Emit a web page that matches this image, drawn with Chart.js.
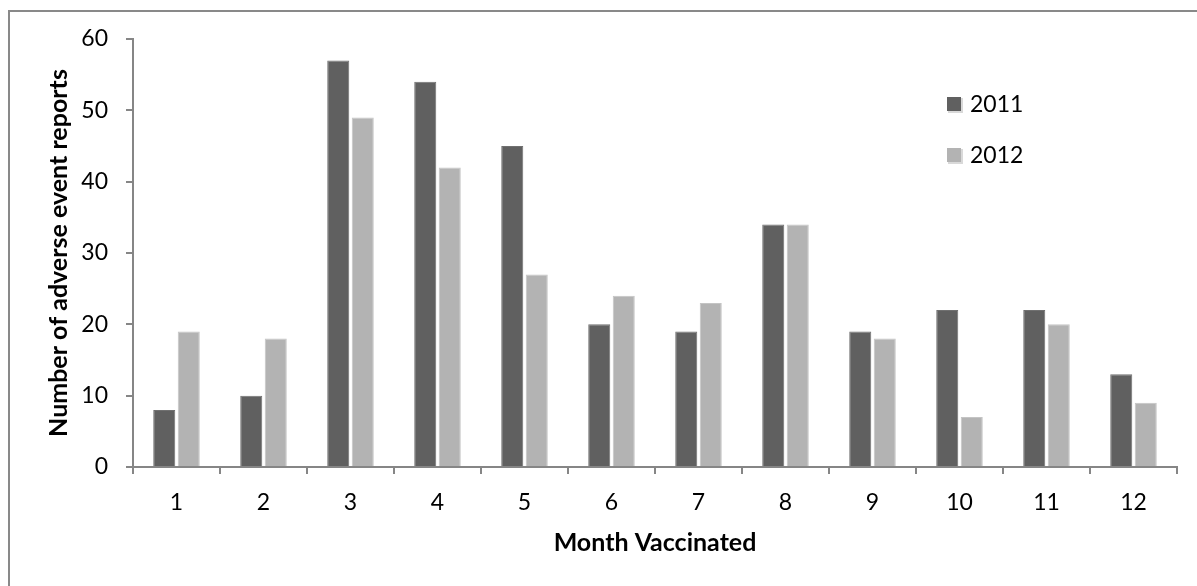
<!DOCTYPE html>
<html>
<head>
<meta charset="utf-8">
<script src="https://cdn.jsdelivr.net/npm/chart.js@4.4.0/dist/chart.umd.min.js"></script>
<style>
  html, body { margin: 0; padding: 0; background: #fff; overflow: hidden; }
  #wrap { position: relative; width: 1197px; height: 586px; }
  #frame { position: absolute; left: 8px; top: 10px; width: 1300px; height: 700px;
           border-left: 2px solid #898989; border-top: 2px solid #898989; box-sizing: border-box; }
  canvas { position: absolute; left: 0; top: 0; }
</style>
</head>
<body>
<div id="wrap">
  <div id="frame"></div>
  <canvas id="c" width="1197" height="586"></canvas>
</div>
<script>
const months = ['1','2','3','4','5','6','7','8','9','10','11','12'];
const seriesNames = ['2011', '2012'];
const values2011 = [8, 10, 57, 54, 45, 20, 19, 34, 19, 22, 22, 13];
const values2012 = [19, 18, 49, 42, 27, 24, 23, 34, 18, 7, 20, 9];
const yTicks = [0, 10, 20, 30, 40, 50, 60];
const xTitle = 'Month Vaccinated';
const yTitle = 'Number of adverse event reports';

const FONT = 'Lato, "Open Sans", sans-serif';
const AXIS = '#868686';

const legendPlugin = {
  id: 'customLegend',
  afterDraw(chart) {
    const ctx = chart.ctx;
    const rows = [105, 156];
    ctx.save();
    chart.data.datasets.forEach((ds, i) => {
      const y = rows[i];
      ctx.fillStyle = '#d9d9d9';
      ctx.fillRect(948, y - 7, 15, 15);
      ctx.fillStyle = ds.backgroundColor;
      ctx.fillRect(947, y - 8, 14, 14);
      ctx.fillStyle = '#000';
      ctx.font = '23px ' + FONT;
      ctx.textBaseline = 'middle';
      ctx.textAlign = 'left';
      ctx.fillText(ds.label, 970, y);
    });
    ctx.restore();
  }
};

new Chart(document.getElementById('c'), {
  type: 'bar',
  data: {
    labels: months,
    datasets: [
      { label: seriesNames[0], data: values2011, backgroundColor: '#606060', borderColor: '#707070', borderWidth: 1 },
      { label: seriesNames[1], data: values2012, backgroundColor: '#b3b3b3', borderColor: '#c4c4c4', borderWidth: 1 }
    ]
  },
  options: {
    responsive: false,
    animation: false,
    devicePixelRatio: 1,
    layout: { padding: { left: 0, top: 39, right: 20, bottom: 0 } },
    datasets: { bar: { categoryPercentage: 0.563, barPercentage: 0.9 } },
    plugins: { legend: { display: false }, tooltip: { enabled: false } },
    scales: {
      x: {
        grid: { display: true, drawOnChartArea: false, offset: true, tickLength: 7, color: AXIS, lineWidth: 2 },
        border: { display: true, color: AXIS, width: 2 },
        ticks: { color: '#000', font: { family: FONT, size: 23 }, padding: 15 },
        title: { display: true, text: xTitle, color: '#000',
                 font: { family: FONT, size: 25, weight: 'bold' }, padding: { top: 0, bottom: 28 } },
        afterFit(s) { s.height = 119; }
      },
      y: {
        min: 0, max: 60,
        afterBuildTicks(s) { s.ticks = yTicks.map(v => ({ value: v })); },
        grid: { display: true, drawOnChartArea: false, tickLength: 7, color: AXIS, lineWidth: 2 },
        border: { display: true, color: AXIS, width: 2 },
        ticks: { color: '#000', font: { family: FONT, size: 23 }, padding: 18 },
        title: { display: true, text: yTitle, color: '#000',
                 font: { family: FONT, size: 25, weight: 'bold' }, padding: { top: 44, bottom: 0 } },
        afterFit(s) { s.width = 133; }
      }
    }
  },
  plugins: [legendPlugin]
});
</script>
</body>
</html>
